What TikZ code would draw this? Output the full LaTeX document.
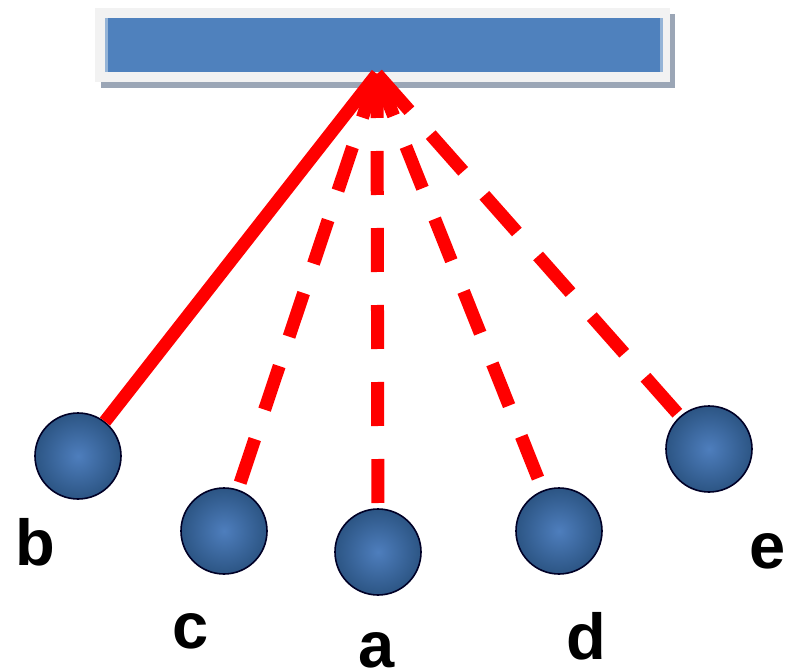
\documentclass[tikz,border=0pt]{standalone}
\usepackage{fontspec}
\setmainfont{Liberation Sans}
\begin{document}
\begin{tikzpicture}[x=1pt,y=-1pt,
  ball/.style={circle,minimum size=86pt,inner sep=0pt,draw=black!85!blue,line width=1.6pt,inner color=ballin,outer color=ballout},
  lbl/.style={font=\fontsize{65}{65}\selectfont\bfseries,inner sep=0pt},
  link/.style={red,line width=13pt},
  dlink/.style={link,shorten >=4pt}]
\definecolor{ballin}{HTML}{4E7EBD}
\definecolor{ballout}{HTML}{2C5584}
\definecolor{barblue}{HTML}{4F81BD}
\definecolor{frame}{HTML}{F2F2F2}
\definecolor{shadow}{HTML}{9BA6B6}
\useasboundingbox (0,0) rectangle (787,668);
% bar
\fill[shadow] (101,14) rectangle (675,88);
\fill[frame] (95,8) rectangle (670,82);
\fill[barblue!60!white] (105,18) rectangle (663,72);
\node[fill=barblue,inner sep=0pt,minimum width=552pt,minimum height=54pt] (bar) at (384,45) {};
\coordinate (apex) at (377,74);
% balls
\node[ball] (b) at (78,456) {};
\node[ball] (c) at (224,531) {};
\node[ball] (a) at (378,552) {};
\node[ball] (d) at (559,531) {};
\node[ball] (e) at (709,449) {};
% connectors
\draw[link] (b) -- (apex);
\draw[dlink,dash pattern=on 46pt off 31pt] (apex) -- (c);
\draw[dlink,dash pattern=on 44pt off 33pt] (apex) -- (a);
\draw[dlink,dash pattern=on 45pt off 33pt] (apex) -- (d);
\draw[dlink,dash pattern=on 49pt off 32pt] (apex) -- (e);
% labels
\node[lbl] (lb) at (35,542) {b};
\node[lbl] (lc) at (191,631) {c};
\node[lbl] (la) at (377,650) {a};
\node[lbl] (ld) at (586,636) {d};
\node[lbl] (le) at (768,551) {e};
\end{tikzpicture}
\end{document}
